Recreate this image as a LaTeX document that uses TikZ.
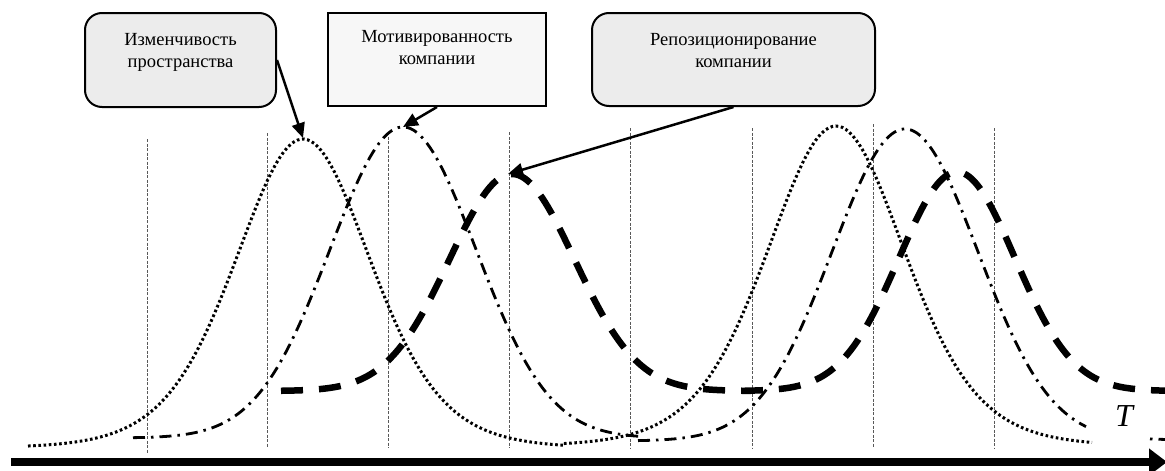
\documentclass[tikz,border=0pt]{standalone}
\usepackage{fontspec}
\setmainfont{Liberation Serif}
\usetikzlibrary{arrows.meta}
\begin{document}
\begin{tikzpicture}[x=1pt,y=-1pt,
  declare function={gb(\xq,\mq,\sq)=exp(-0.5*((\xq-\mq)/\sq)*((\xq-\mq)/\sq));
                    tb(\xq,\mq,\sq)=1/(1+((\xq-\mq)/\sq)*((\xq-\mq)/\sq))^5;},
  roundbox/.style={draw, line width=2pt, rounded corners=17pt, fill=gray!15, inner sep=0pt},
  flatbox/.style={draw, line width=2pt, fill=gray!6, inner sep=0pt},
  lbl/.style={font=\fontsize{18.5}{22.5}\selectfont, align=center, anchor=base, inner sep=0pt},
  pointer/.style={line width=2.5pt, -{Triangle[length=15pt,width=13pt]}},
  vline/.style={draw=black!65, line width=1pt, dash pattern=on 3pt off 1.5pt},
  dotcurve/.style={line width=3pt, dash pattern=on 2.6pt off 2.6pt},
  dashdotcurve/.style={line width=2.8pt, dash pattern=on 12pt off 6pt on 2.5pt off 6pt},
  thickdash/.style={line width=6.5pt, dash pattern=on 22pt off 16pt},
  axisline/.style={line width=8pt, -{Triangle[length=18pt,width=26pt]}},
]
\useasboundingbox (0,0) rectangle (1165,471);

% vertical guide lines
\foreach \vx/\vt/\vb in {147/139/454, 267.5/133/448, 388/132/448, 509/132/448,
                         630/128/448, 752.5/128/448, 873.5/124/448, 994/128/448}
  \draw[vline] (\vx,\vt) -- (\vx,\vb);

% dotted curve
\draw[dotcurve]
  plot[domain=28:563, samples=160] (\x, {448-309*tb(\x,303,208)})
  -- plot[domain=563:1092, samples=160] (\x, {446-320*tb(\x,836,212)});

% dash-dot curve
\draw[dashdotcurve]
  plot[domain=133:641, samples=160] (\x, {438-311*gb(\x,403,73)});
\draw[dashdotcurve]
  plot[domain=638:1086, samples=160] (\x, {441-312*gb(\x,905,73)});
\draw[line width=2.8pt, dash pattern=on 2.5pt off 6pt on 12pt off 6pt]
  plot[domain=1150:1166, samples=10] (\x, {440-312*gb(\x,905,73)});

% thick dashed curve
\draw[thickdash]
  plot[domain=281:748, samples=160] (\x, {391-217*gb(\x,512,62.5)})
  -- plot[domain=748:1166, samples=160] (\x, {391-219*gb(\x,957,58)});

% boxes
\node[roundbox, minimum width=191pt, minimum height=94pt] (b1) at (180.5,60) {};
\node[flatbox, minimum width=218pt, minimum height=93pt] (b2) at (437,59.5) {};
\node[roundbox, minimum width=283pt, minimum height=93pt] (b3) at (733.5,59.5) {};

\node[lbl] (t1) at (180.5,67.5) {Изменчивость\\пространства};
\node[lbl] (t2) at (437,64.5) {Мотивированность\\компании};
\node[lbl] (t3) at (733.5,67.5) {Репозиционирование\\компании};

% pointer targets
\coordinate (p1) at (303,138);
\coordinate (p2) at (403,127);
\coordinate (p3) at (508,174);

\draw[pointer] (b1.east) -- (p1);
\draw[pointer] (b2.south) -- (p2);
\draw[pointer] (b3.south) -- (p3);

% time axis
\coordinate (ax0) at (11,462);
\coordinate (ax1) at (1167,462);
\draw[axisline] (ax0) -- (ax1);
\node[font=\fontsize{32}{32}\selectfont\itshape, anchor=base, inner sep=0pt] (tl) at (1124,426) {T};
\end{tikzpicture}
\end{document}
